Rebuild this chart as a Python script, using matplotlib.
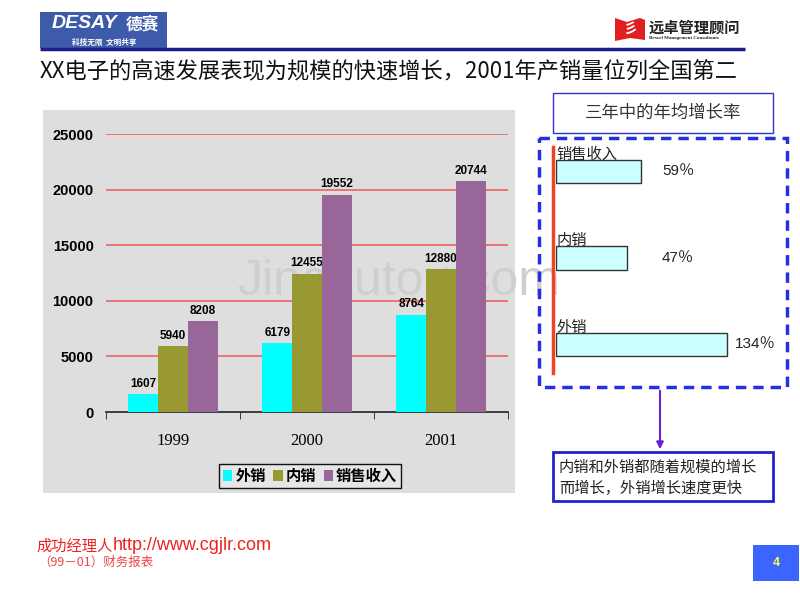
import matplotlib.pyplot as plt
from matplotlib.patches import Rectangle, Polygon

plt.rcParams['font.family'] = ['Noto Sans CJK SC', 'DejaVu Sans']

years = ['1999', '2000', '2001']
series = ['外销', '内销', '销售收入']
export_sales = [1607, 6179, 8764]
domestic_sales = [5940, 12455, 12880]
revenue = [8208, 19552, 20744]
bar_colors = ['#00ffff', '#999933', '#996699']

growth_names = ['销售收入', '内销', '外销']
growth_rates = [59, 47, 134]

title = 'XX电子的高速发展表现为规模的快速增长，2001年产销量位列全国第二'
note_lines = ['内销和外销都随着规模的增长', '而增长，外销增长速度更快']

fig = plt.figure(figsize=(8, 6), dpi=100)
fig.patch.set_facecolor('white')

# overlay axes in pixel units for the slide decoration
deco = fig.add_axes([0, 0, 1, 1])
deco.set_xlim(0, 800)
deco.set_ylim(600, 0)
deco.axis('off')

# header: DESAY logo
deco.add_patch(Rectangle((40, 12), 127, 36, facecolor='#3d5ba8', edgecolor='none'))
deco.text(52, 24, 'DESAY', color='white', fontsize=14, fontweight='bold', style='italic',
          family=['Liberation Sans', 'DejaVu Sans'], va='center')
deco.text(126, 24, '德赛', color='white', fontsize=12, fontweight='bold', va='center')
deco.text(104, 42, '科技无限  文明共享', color='white', fontsize=5.5, fontweight='bold',
          ha='center', va='center')
# header: right logo
deco.add_patch(Polygon([[615, 18], [627, 22], [640, 18], [645, 20], [645, 40], [630, 38], [615, 41]],
                       closed=True, facecolor='#e02020', edgecolor='none'))
deco.text(630, 29, '彡', color='white', fontsize=10, fontweight='bold', ha='center', va='center')
deco.text(649, 27, '远卓管理顾问', color='#222222', fontsize=11, fontweight='bold', va='center')
deco.text(649, 38, 'Bexcel Management Consultants', color='#222222', fontsize=3.6,
          fontweight='bold', family=['Liberation Serif'], va='center')
deco.plot([40, 745], [49, 49], color='#1c1c8c', lw=2.5, solid_capstyle='butt')

deco.text(40, 71, title, fontsize=16, color='#111111', va='center')

# chart panel
deco.add_patch(Rectangle((43, 110), 472, 383, facecolor='#dedede', edgecolor='none'))
deco.text(237, 282, 'Jinchutou.com', fontsize=36, color='#cfcfcf',
          family=['Liberation Sans'], va='center', zorder=1)

# main bar chart
ax = fig.add_axes([106 / 800, 1 - 412 / 600, 402 / 800, 278 / 600])
ax.set_facecolor('none')
ax.set_xlim(-0.5, 2.5)
ax.set_ylim(0, 25000)
width = 0.222
for i, (vals, col) in enumerate(zip([export_sales, domestic_sales, revenue], bar_colors)):
    xs = [k + (i - 1) * width for k in range(len(years))]
    bars = ax.bar(xs, vals, width=width, color=col, label=series[i], zorder=3)
    for b, v in zip(bars, vals):
        ax.annotate(str(v), (b.get_x() + b.get_width() / 2, v), xytext=(0, 3),
                    textcoords='offset points', ha='center', va='bottom',
                    fontsize=8.5, fontweight='bold', family=['Liberation Sans'])
for t in [5000, 10000, 15000, 20000, 25000]:
    ax.axhline(t, color='#ee6b6b', lw=1.3, zorder=1)
for s in ['top', 'right', 'left']:
    ax.spines[s].set_visible(False)
ax.spines['bottom'].set_color('#222222')
ax.spines['bottom'].set_linewidth(1.2)
ax.set_yticks([0, 5000, 10000, 15000, 20000, 25000])
ax.tick_params(axis='y', length=0, pad=9, labelsize=10.5)
for lab in ax.get_yticklabels():
    lab.set_fontweight('bold')
    lab.set_family(['Liberation Sans'])
ax.set_xticks(range(len(years)))
ax.set_xticklabels(years)
ax.tick_params(axis='x', length=0, pad=15, labelsize=12)
for lab in ax.get_xticklabels():
    lab.set_family(['Liberation Serif'])
ax.set_xticks([-0.5, 0.5, 1.5, 2.5], minor=True)
ax.tick_params(axis='x', which='minor', length=5, direction='out', color='#222222')

leg = fig.legend(loc='center', bbox_to_anchor=(310 / 800, 1 - 476 / 600), ncol=3,
                 frameon=True, fancybox=False, edgecolor='#111111', facecolor='#e6e6e6',
                 handlelength=0.6, handleheight=0.7, handletextpad=0.2, columnspacing=0.5,
                 borderpad=0.25, borderaxespad=0, prop={'weight': 'bold', 'size': 11})
leg.get_frame().set_linewidth(1.0)
leg.get_frame().set_alpha(1)

# right panel: average annual growth
deco.add_patch(Rectangle((553, 93), 220, 40, facecolor='white', edgecolor='#3333cc', lw=1))
deco.text(663, 113, '三年中的年均增长率', fontsize=12.5, color='#333333', ha='center', va='center')
deco.add_patch(Rectangle((539, 138), 248, 249, facecolor='none', edgecolor='#2233dd',
                         lw=2.5, linestyle=(0, (3, 2))))
deco.plot([553, 553], [147, 373], color='#ee4422', lw=2.5)
deco.annotate('', xy=(660, 452), xytext=(660, 388),
              arrowprops=dict(arrowstyle='-|>', color='#6a1fd0', lw=1.5, mutation_scale=10))
deco.add_patch(Rectangle((553, 452), 220, 49, facecolor='white', edgecolor='#2222cc', lw=2))
deco.text(559, 467, note_lines[0], fontsize=11, color='#222222', va='center')
deco.text(559, 488, note_lines[1], fontsize=11, color='#222222', va='center')

gax = fig.add_axes([556 / 800, 1 - 380 / 600, 230 / 800, 240 / 600])
gax.axis('off')
base = 14.8
gax.set_xlim(-base, -base + 230 / 1.149)
gax.set_ylim(2 + 35.5 / 86.5, -31.5 / 86.5)
gpos = list(range(len(growth_names)))
gax.barh(gpos, [v + base for v in growth_rates], left=-base, height=0.266,
         facecolor='#ccffff', edgecolor='#333333', lw=1)
for p, name, v in zip(gpos, growth_names, growth_rates):
    gax.text(-base, p - 0.1, name, fontsize=11, color='#222222', ha='left', va='bottom')
    gax.text(max(v + 7, 77.5), p, f'{v}％', fontsize=11, color='#222222', ha='left',
             va='center', family=['Liberation Sans', 'Noto Sans CJK SC'])

# footer
deco.text(36, 546, '成功经理人', fontsize=11, color='#ee2222', va='center')
deco.text(113, 546, 'http://www.cgjlr.com', fontsize=13, color='#ee2222', ha='left',
          va='center', family=['Liberation Sans'])
deco.text(38, 562, '（99－01）财务报表', fontsize=9, color='#ee4444', style='italic', va='center')
deco.add_patch(Rectangle((753, 545), 46, 36, facecolor='#3a66ff', edgecolor='none'))
deco.text(776, 563, '4', fontsize=9, color='#ffff55', fontweight='bold', ha='center',
          va='center', family=['Liberation Sans'])

fig.savefig('out.png', dpi=100)
